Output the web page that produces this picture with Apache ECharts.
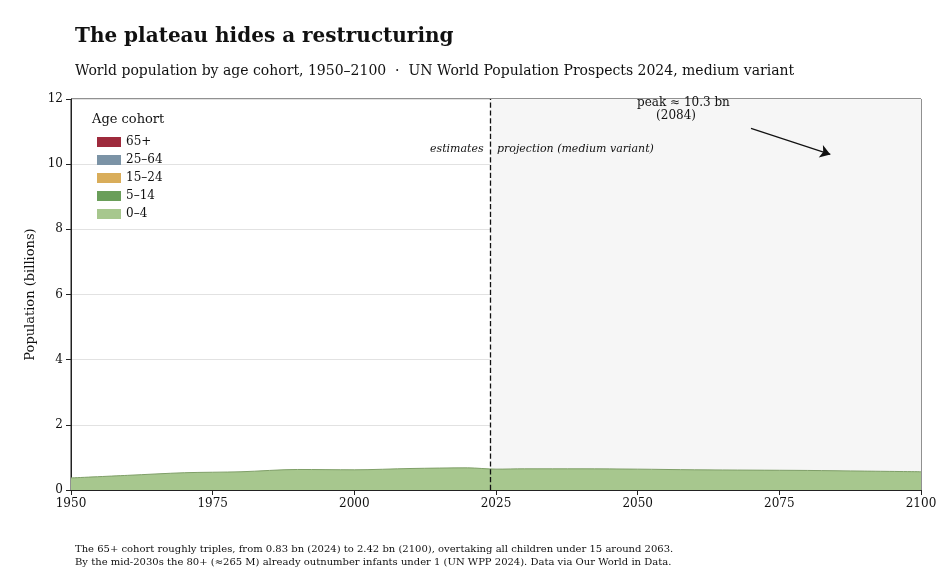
<!DOCTYPE html><html><head><meta charset="utf-8">
<script src="https://cdn.jsdelivr.net/npm/echarts@6/dist/echarts.min.js"></script>
<style>body{margin:0;background:#fff}#c{width:945px;height:584px}</style></head><body><div id="c"></div>
<script>
const years=[1950,1960,1970,1980,1990,2000,2010,2020,2025,2030,2040,2050,2060,2070,2080,2090,2100];
const age0_4=[.37,.45,.53,.56,.63,.62,.66,.68,.64,.65,.65,.64,.62,.61,.6,.58,.56];
const age5_14=[.48,.60,.82,.99,1.12,1.23,1.22,1.32,1.34,1.28,1.29,1.31,1.28,1.24,1.20,1.16,1.10];
const age15_24=[.47,.55,.65,.85,1.00,1.10,1.27,1.27,1.32,1.37,1.31,1.31,1.32,1.30,1.27,1.24,1.22];
const age25_64=[1.03,1.25,1.40,1.70,2.20,2.75,3.30,3.83,4.07,4.25,4.60,4.81,4.88,4.97,4.90,4.90,4.87];
const age65p=[.15,.15,.30,.35,.35,.45,.50,.70,.83,1.00,1.35,1.58,1.85,2.08,2.31,2.39,2.43];
const names=['0–4','5–14','15–24','25–64','65+'];
const cols=['#a7c78e','#6a9e5a','#d9ad5a','#7b93a6','#9e2a3c'];
const edges=['#7f9f68','#4a7a3c','#b08838','#5a7385','#5e0f1c'];
const F='DejaVu Serif';
const arrs=[age0_4,age5_14,age15_24,age25_64,age65p];
const series=arrs.map((a,i)=>({name:names[i],type:'line',stack:'t',smooth:0.3,symbol:'none',
 data:years.map((y,j)=>[y,a[j]]),areaStyle:{color:cols[i],opacity:1},
 lineStyle:{color:edges[i],width:i==4?2:1},itemStyle:{color:cols[i],borderColor:edges[i]},z:3}));
series.push({type:'line',data:[],z:1,silent:true,
 markArea:{silent:true,itemStyle:{color:'#f6f6f6'},data:[[{xAxis:2024},{xAxis:2100}]]}});
series.push({type:'line',data:[],z:10,silent:true,
 markLine:{silent:true,symbol:'none',lineStyle:{color:'#111',type:'dashed',width:1.3},label:{show:false},data:[{xAxis:2024}]}});
series[4].markLine={silent:true,symbol:['none','arrow'],symbolSize:10,lineStyle:{color:'#111',type:'solid',width:1.2},label:{show:false},
 data:[[{coord:[2070,11.1]},{coord:[2084,10.3]}]]};
const ch=echarts.init(document.getElementById('c'));
ch.setOption({
 animation:false,
 textStyle:{fontFamily:F},
 title:[{text:'The plateau hides a restructuring',left:70,top:22,textStyle:{fontFamily:F,fontSize:20,fontWeight:'bold',color:'#111'}},
  {text:'World population by age cohort, 1950–2100  ·  UN World Population Prospects 2024, medium variant',left:70,top:59,textStyle:{fontFamily:F,fontSize:14,fontWeight:'normal',color:'#111'}},
  {text:'The 65+ cohort roughly triples, from 0.83 bn (2024) to 2.42 bn (2100), overtaking all children under 15 around 2063.\nBy the mid-2030s the 80+ (≈265 M) already outnumber infants under 1 (UN WPP 2024). Data via Our World in Data.',left:70,top:538,textStyle:{fontFamily:F,fontSize:10,fontWeight:'normal',color:'#111',lineHeight:13}}],
 legend:{data:names.slice().reverse(),orient:'vertical',left:92,top:131,icon:'rect',itemWidth:24,itemHeight:10,itemGap:6,textStyle:{fontFamily:F,fontSize:12,color:'#111'}},
 graphic:[{type:'text',z:100,left:92,top:113,style:{text:'Age cohort',font:'13px "DejaVu Serif"',fill:'#111'}},
  {type:'text',z:100,left:430,top:144,style:{text:'estimates',font:'italic 11px "DejaVu Serif"',fill:'#111'}},
  {type:'text',z:100,left:497,top:144,style:{text:'projection (medium variant)',font:'italic 11px "DejaVu Serif"',fill:'#111'}},
  {type:'text',z:100,left:637,top:96,style:{text:'peak ≈ 10.3 bn\n     (2084)',font:'12px "DejaVu Serif"',fill:'#111',lineHeight:13}}],
 grid:{left:71,right:24,top:99,bottom:94,show:true,borderColor:'#222',borderWidth:1},
 xAxis:{type:'value',min:1950,max:2100,interval:25,axisLine:{lineStyle:{color:'#222'}},axisTick:{show:true,lineStyle:{color:'#222'}},
  axisLabel:{fontFamily:F,fontSize:12,color:'#111',formatter:v=>String(v)},splitLine:{show:false}},
 yAxis:{type:'value',min:0,max:12,interval:2,name:'Population (billions)',nameLocation:'middle',nameGap:32,nameTextStyle:{fontFamily:F,fontSize:13,color:'#111'},
  axisLine:{show:true,lineStyle:{color:'#222'}},axisTick:{show:true,lineStyle:{color:'#222'}},
  axisLabel:{fontFamily:F,fontSize:12,color:'#111'},splitLine:{show:true,lineStyle:{color:'#e2e2e2'}}},
 series
});
</script></body></html>
